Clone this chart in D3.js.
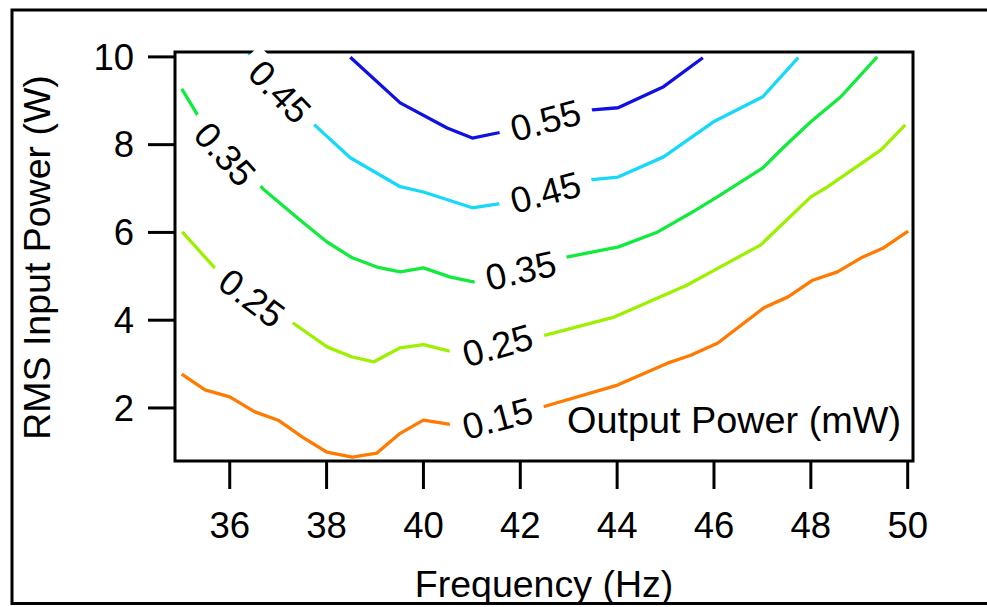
<!DOCTYPE html>
<html>
<head>
<meta charset="utf-8">
<script src="https://cdn.jsdelivr.net/npm/d3@7"></script>
<style>
  html, body { margin: 0; padding: 0; background: #fff; }
  svg { display: block; }
  text { font-family: "Liberation Sans", Arial, Helvetica, sans-serif; fill: #000; }
</style>
</head>
<body>
<svg id="chart" width="987" height="607"></svg>
<script>
// ---- data ----
const xTicks = [36, 38, 40, 42, 44, 46, 48, 50];
const yTicks = [2, 4, 6, 8, 10];
const xDomain = [34.88, 50.12];
const yDomain = [0.78, 10.1];
const xTitle = "Frequency (Hz)";
const yTitle = "RMS Input Power (W)";
const legendTitle = "Output Power (mW)";

const levels = ["0.15", "0.25", "0.35", "0.45", "0.55"];

// contour paths: [frequency (Hz), RMS input power (W)]
const contour015 = [[35.02,2.76],[35.50,2.40],[36.01,2.24],[36.53,1.90],[37.01,1.71],[37.52,1.32],[38.02,0.98],[38.54,0.87],[39.05,0.96],[39.53,1.41],[40.01,1.71],[40.53,1.62],[42.47,2.01],[44.02,2.51],[45.05,3.01],[45.53,3.19],[46.09,3.47],[47.04,4.27],[47.54,4.52],[48.05,4.90],[48.56,5.09],[49.05,5.41],[49.52,5.64],[50.02,6.02]];
const contour025 = [[35.03,6.00],[35.70,5.18],[37.31,3.93],[38.02,3.38],[38.54,3.15],[38.99,3.04],[39.53,3.36],[40.01,3.43],[40.53,3.29],[42.47,3.63],[43.95,4.06],[45.46,4.79],[46.02,5.13],[46.97,5.70],[48.01,6.80],[48.36,7.03],[49.46,7.87],[49.96,8.44]];
const contour035 = [[35.02,9.26],[35.37,8.62],[36.70,6.98],[37.46,6.27],[38.02,5.77],[38.54,5.41],[39.05,5.20],[39.53,5.09],[40.01,5.18],[40.57,4.97],[41.04,4.86],[42.99,5.43],[44.04,5.66],[44.85,6.00],[45.53,6.43],[46.08,6.80],[47.02,7.46],[47.46,7.94],[48.01,8.51],[48.63,9.08],[49.38,9.99]];
const contour045 = [[36.40,10.08],[37.71,8.49],[38.50,7.69],[39.53,7.03],[40.01,6.91],[41.02,6.55],[41.56,6.64],[43.50,7.19],[44.03,7.25],[44.97,7.71],[46.00,8.51],[47.02,9.08],[47.75,9.97]];
const contour055 = [[38.50,9.98],[39.53,8.94],[40.50,8.37],[41.02,8.14],[41.56,8.26],[43.50,8.78],[44.03,8.83],[44.97,9.31],[45.78,9.97]];
const contours = [contour015, contour025, contour035, contour045, contour055];

// contour labels: level text, position [freq, power], rotation
const labelText  = ["0.45", "0.35", "0.25", "0.55", "0.45", "0.35", "0.25", "0.15"];
const labelFreq  = [37.05, 35.92, 36.47, 42.53, 42.53, 42.02, 41.54, 41.54];
const labelPower = [9.20, 7.78, 4.50, 8.55, 6.91, 5.13, 3.42, 1.76];
const labelAngle = [46, 48, 37, -15, -15, -13, -16, -15];

// ---- styles ----
const levelColors = ["#ff7a00", "#9cf000", "#12ea3e", "#18d8f8", "#1010e0"];

const svg = d3.select("#chart");
const plot = { left: 175, right: 913, top: 52, bottom: 461 };

// outer frame
svg.append("rect")
  .attr("x", 12).attr("y", 10)
  .attr("width", 1000).attr("height", 593.5)
  .attr("fill", "none").attr("stroke", "#000").attr("stroke-width", 3);

const x = d3.scaleLinear().domain(xDomain).range([plot.left, plot.right]);
const y = d3.scaleLinear().domain(yDomain).range([plot.bottom, plot.top]);

// contour lines
const line = d3.line().x(d => x(d[0])).y(d => y(d[1]));
const g = svg.append("g");
contours.forEach((c, i) => {
  g.append("path")
    .attr("d", line(c))
    .attr("fill", "none")
    .attr("stroke", levelColors[i])
    .attr("stroke-width", 3.3)
    .attr("stroke-linejoin", "round");
});

// plot frame
svg.append("rect")
  .attr("x", plot.left).attr("y", plot.top)
  .attr("width", plot.right - plot.left).attr("height", plot.bottom - plot.top)
  .attr("fill", "none").attr("stroke", "#000").attr("stroke-width", 3);

// axes
const xAxis = d3.axisBottom(x).tickValues(xTicks).tickSize(28).tickPadding(14).tickFormat(d3.format("d"));
const yAxis = d3.axisLeft(y).tickValues(yTicks).tickSize(27).tickPadding(14).tickFormat(d3.format("d"));

const gx = svg.append("g").attr("transform", `translate(0,${plot.bottom})`).call(xAxis);
const gy = svg.append("g").attr("transform", `translate(${plot.left},0)`).call(yAxis);
[gx, gy].forEach(a => {
  a.select(".domain").remove();
  a.selectAll(".tick line").attr("stroke", "#000").attr("stroke-width", 3);
  a.selectAll(".tick text")
    .style("font-family", '"Liberation Sans", Arial, sans-serif')
    .style("font-size", "36.5px").attr("fill", "#000");
});
gx.selectAll(".tick text").attr("dy", null).attr("y", 77);
gy.selectAll(".tick text").attr("x", -41).attr("dy", "0.35em");

// contour labels with white background boxes
labelText.forEach((t, i) => {
  const lg = svg.append("g")
    .attr("transform", `translate(${x(labelFreq[i])},${y(labelPower[i])}) rotate(${labelAngle[i]})`);
  const rect = lg.append("rect").attr("fill", "#fff");
  const txt = lg.append("text")
    .attr("text-anchor", "middle")
    .attr("dy", "0.36em")
    .style("font-size", "36.5px")
    .text(t);
  const bb = txt.node().getBBox();
  const padX = 12;
  rect.attr("x", bb.x - padX).attr("y", -17)
      .attr("width", bb.width + 2 * padX).attr("height", 34);
});

// titles
svg.append("text")
  .attr("x", (plot.left + plot.right) / 2).attr("y", 597)
  .attr("text-anchor", "middle")
  .style("font-size", "37.5px")
  .text(xTitle);

svg.append("text")
  .attr("transform", `translate(50,${(plot.top + plot.bottom) / 2 + 1}) rotate(-90)`)
  .attr("text-anchor", "middle")
  .style("font-size", "37.5px")
  .text(yTitle);

svg.append("text")
  .attr("x", 901).attr("y", 433)
  .attr("text-anchor", "end")
  .style("font-size", "37.8px")
  .text(legendTitle);
</script>
</body>
</html>
